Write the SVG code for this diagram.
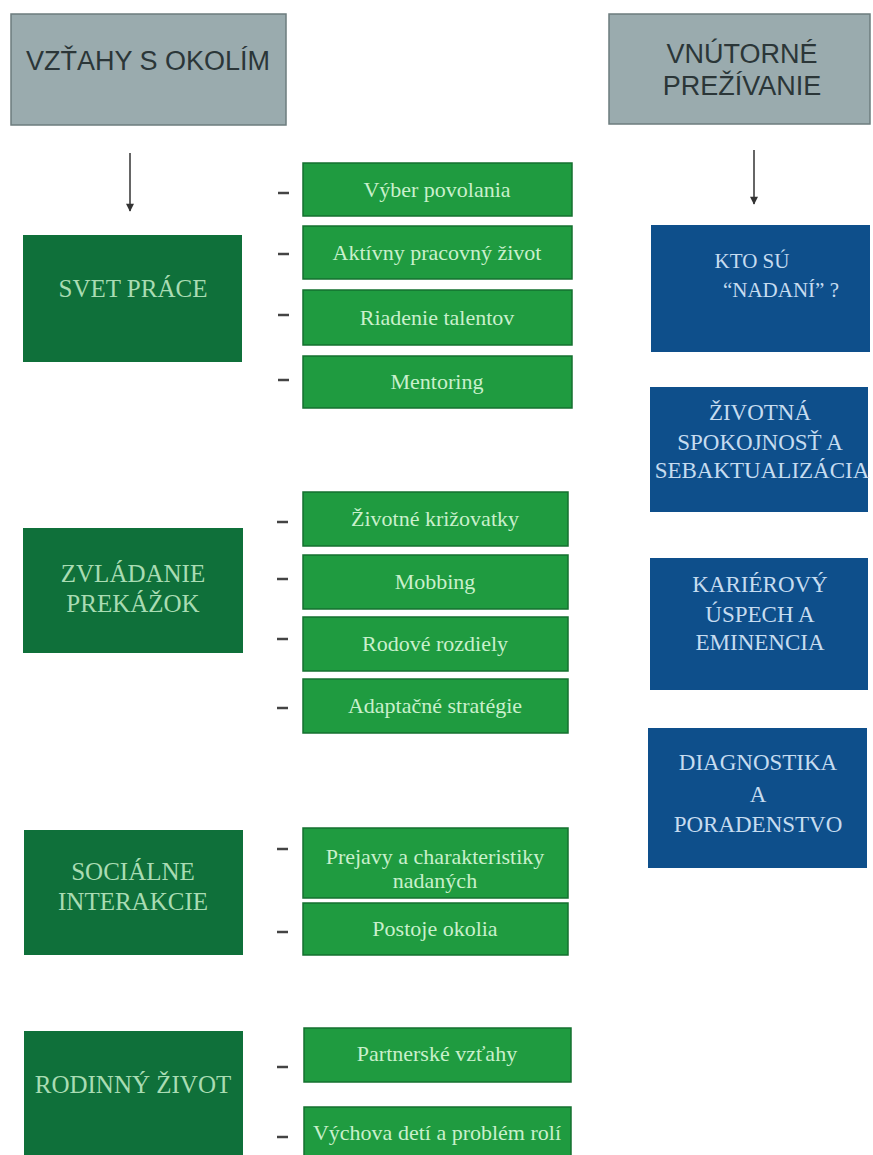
<svg xmlns="http://www.w3.org/2000/svg" width="873" height="1155" viewBox="0 0 873 1155">
<defs>
<style>
.hdr{fill:#9aabae;stroke:#6c7c7e;stroke-width:1.5}
.hdrt{font-family:"Liberation Sans",Arial,sans-serif;font-size:27px;fill:#2b3638;text-anchor:middle}
.dk{fill:#0f703a}
.dkt{font-family:"Liberation Serif","Times New Roman",serif;font-size:25px;fill:#a9dcb3;text-anchor:middle}
.sb{fill:#1f9b40;stroke:#14702f;stroke-width:1.5}
.sbt{font-family:"Liberation Serif","Times New Roman",serif;font-size:22px;fill:#c9f0cc;text-anchor:middle}
.bl{fill:#0e4f8b}
.blt{font-family:"Liberation Serif","Times New Roman",serif;font-size:23px;fill:#c6dcf0;text-anchor:middle}
.dash{stroke:#444;stroke-width:2.5}
.arr{stroke:#333;stroke-width:1.5;fill:none}
</style>
<marker id="ah" viewBox="0 0 10 10" refX="9" refY="5" markerWidth="16" markerHeight="8" markerUnits="userSpaceOnUse" orient="auto">
<path d="M0,0 L10,5 L0,10 z" fill="#333"/>
</marker>
</defs>
<rect width="873" height="1155" fill="#ffffff"/>

<g id="hdr-left">
<rect class="hdr" x="11" y="14" width="275" height="111"/>
<text class="hdrt" x="148" y="70">VZŤAHY S OKOLÍM</text>
</g>
<g id="hdr-right">
<rect class="hdr" x="609" y="14" width="261" height="110"/>
<text class="hdrt" x="742" y="63">VNÚTORNÉ</text>
<text class="hdrt" x="742" y="95">PREŽÍVANIE</text>
</g>

<g id="connectors">
<line class="arr" x1="130" y1="153" x2="130" y2="211" marker-end="url(#ah)"/>
<line class="arr" x1="754" y1="150" x2="754" y2="204" marker-end="url(#ah)"/>
<line class="dash" x1="278" y1="193" x2="289" y2="193"/>
<line class="dash" x1="278" y1="254" x2="289" y2="254"/>
<line class="dash" x1="278" y1="315" x2="289" y2="315"/>
<line class="dash" x1="278" y1="380" x2="289" y2="380"/>
<line class="dash" x1="277" y1="522" x2="288" y2="522"/>
<line class="dash" x1="277" y1="579" x2="288" y2="579"/>
<line class="dash" x1="277" y1="639" x2="288" y2="639"/>
<line class="dash" x1="277" y1="708" x2="288" y2="708"/>
<line class="dash" x1="277" y1="849" x2="288" y2="849"/>
<line class="dash" x1="277" y1="932" x2="288" y2="932"/>
<line class="dash" x1="277" y1="1067" x2="288" y2="1067"/>
<line class="dash" x1="277" y1="1137" x2="288" y2="1137"/>
</g>

<g id="svet-prace">
<rect class="dk" x="23" y="235" width="219" height="127"/>
<text class="dkt" x="133" y="297">SVET PRÁCE</text>
</g>
<g id="vyber-povolania">
<rect class="sb" x="303" y="163" width="269" height="53"/>
<text class="sbt" x="437" y="197">Výber povolania</text>
</g>
<g id="aktivny-pracovny-zivot">
<rect class="sb" x="303" y="226" width="269" height="53"/>
<text class="sbt" x="437" y="260">Aktívny pracovný život</text>
</g>
<g id="riadenie-talentov">
<rect class="sb" x="303" y="290" width="269" height="55"/>
<text class="sbt" x="437" y="325">Riadenie talentov</text>
</g>
<g id="mentoring">
<rect class="sb" x="303" y="356" width="269" height="52"/>
<text class="sbt" x="437" y="389">Mentoring</text>
</g>

<g id="zvladanie-prekazok">
<rect class="dk" x="23" y="528" width="220" height="125"/>
<text class="dkt" x="133" y="582">ZVLÁDANIE</text>
<text class="dkt" x="133" y="612">PREKÁŽOK</text>
</g>
<g id="zivotne-krizovatky">
<rect class="sb" x="303" y="492" width="265" height="54"/>
<text class="sbt" x="435" y="526">Životné križovatky</text>
</g>
<g id="mobbing">
<rect class="sb" x="303" y="555" width="265" height="54"/>
<text class="sbt" x="435" y="589">Mobbing</text>
</g>
<g id="rodove-rozdiely">
<rect class="sb" x="303" y="617" width="265" height="54"/>
<text class="sbt" x="435" y="651">Rodové rozdiely</text>
</g>
<g id="adaptacne-strategie">
<rect class="sb" x="303" y="679" width="265" height="54"/>
<text class="sbt" x="435" y="713">Adaptačné stratégie</text>
</g>

<g id="socialne-interakcie">
<rect class="dk" x="24" y="830" width="219" height="125"/>
<text class="dkt" x="133" y="880">SOCIÁLNE</text>
<text class="dkt" x="133" y="910">INTERAKCIE</text>
</g>
<g id="prejavy">
<rect class="sb" x="303" y="828" width="265" height="70"/>
<text class="sbt" x="435" y="864">Prejavy a charakteristiky</text>
<text class="sbt" x="435" y="888">nadaných</text>
</g>
<g id="postoje-okolia">
<rect class="sb" x="303" y="903" width="265" height="52"/>
<text class="sbt" x="435" y="936">Postoje okolia</text>
</g>

<g id="rodinny-zivot">
<rect class="dk" x="24" y="1031" width="219" height="130"/>
<text class="dkt" x="133" y="1093">RODINNÝ ŽIVOT</text>
</g>
<g id="partnerske-vztahy">
<rect class="sb" x="304" y="1028" width="267" height="54"/>
<text class="sbt" x="437" y="1061">Partnerské vzťahy</text>
</g>
<g id="vychova-deti">
<rect class="sb" x="304" y="1107" width="267" height="60"/>
<text class="sbt" x="437" y="1140">Výchova detí a problém rolí</text>
</g>

<g id="kto-su-nadani">
<rect class="bl" x="651" y="225" width="219" height="127"/>
<text class="blt" x="752" y="268" style="font-size:21px">KTO SÚ</text>
<text class="blt" x="781" y="297" style="font-size:21px">“NADANÍ” ?</text>
</g>
<g id="zivotna-spokojnost">
<rect class="bl" x="650" y="387" width="218" height="125"/>
<text class="blt" x="760" y="420">ŽIVOTNÁ</text>
<text class="blt" x="760" y="450">SPOKOJNOSŤ A</text>
<text class="blt" x="762" y="478">SEBAKTUALIZÁCIA</text>
</g>
<g id="karierovy-uspech">
<rect class="bl" x="650" y="558" width="218" height="132"/>
<text class="blt" x="760" y="592">KARIÉROVÝ</text>
<text class="blt" x="760" y="622">ÚSPECH A</text>
<text class="blt" x="760" y="650">EMINENCIA</text>
</g>
<g id="diagnostika">
<rect class="bl" x="648" y="728" width="219" height="140"/>
<text class="blt" x="758" y="770">DIAGNOSTIKA</text>
<text class="blt" x="758" y="802">A</text>
<text class="blt" x="758" y="832">PORADENSTVO</text>
</g>
</svg>
